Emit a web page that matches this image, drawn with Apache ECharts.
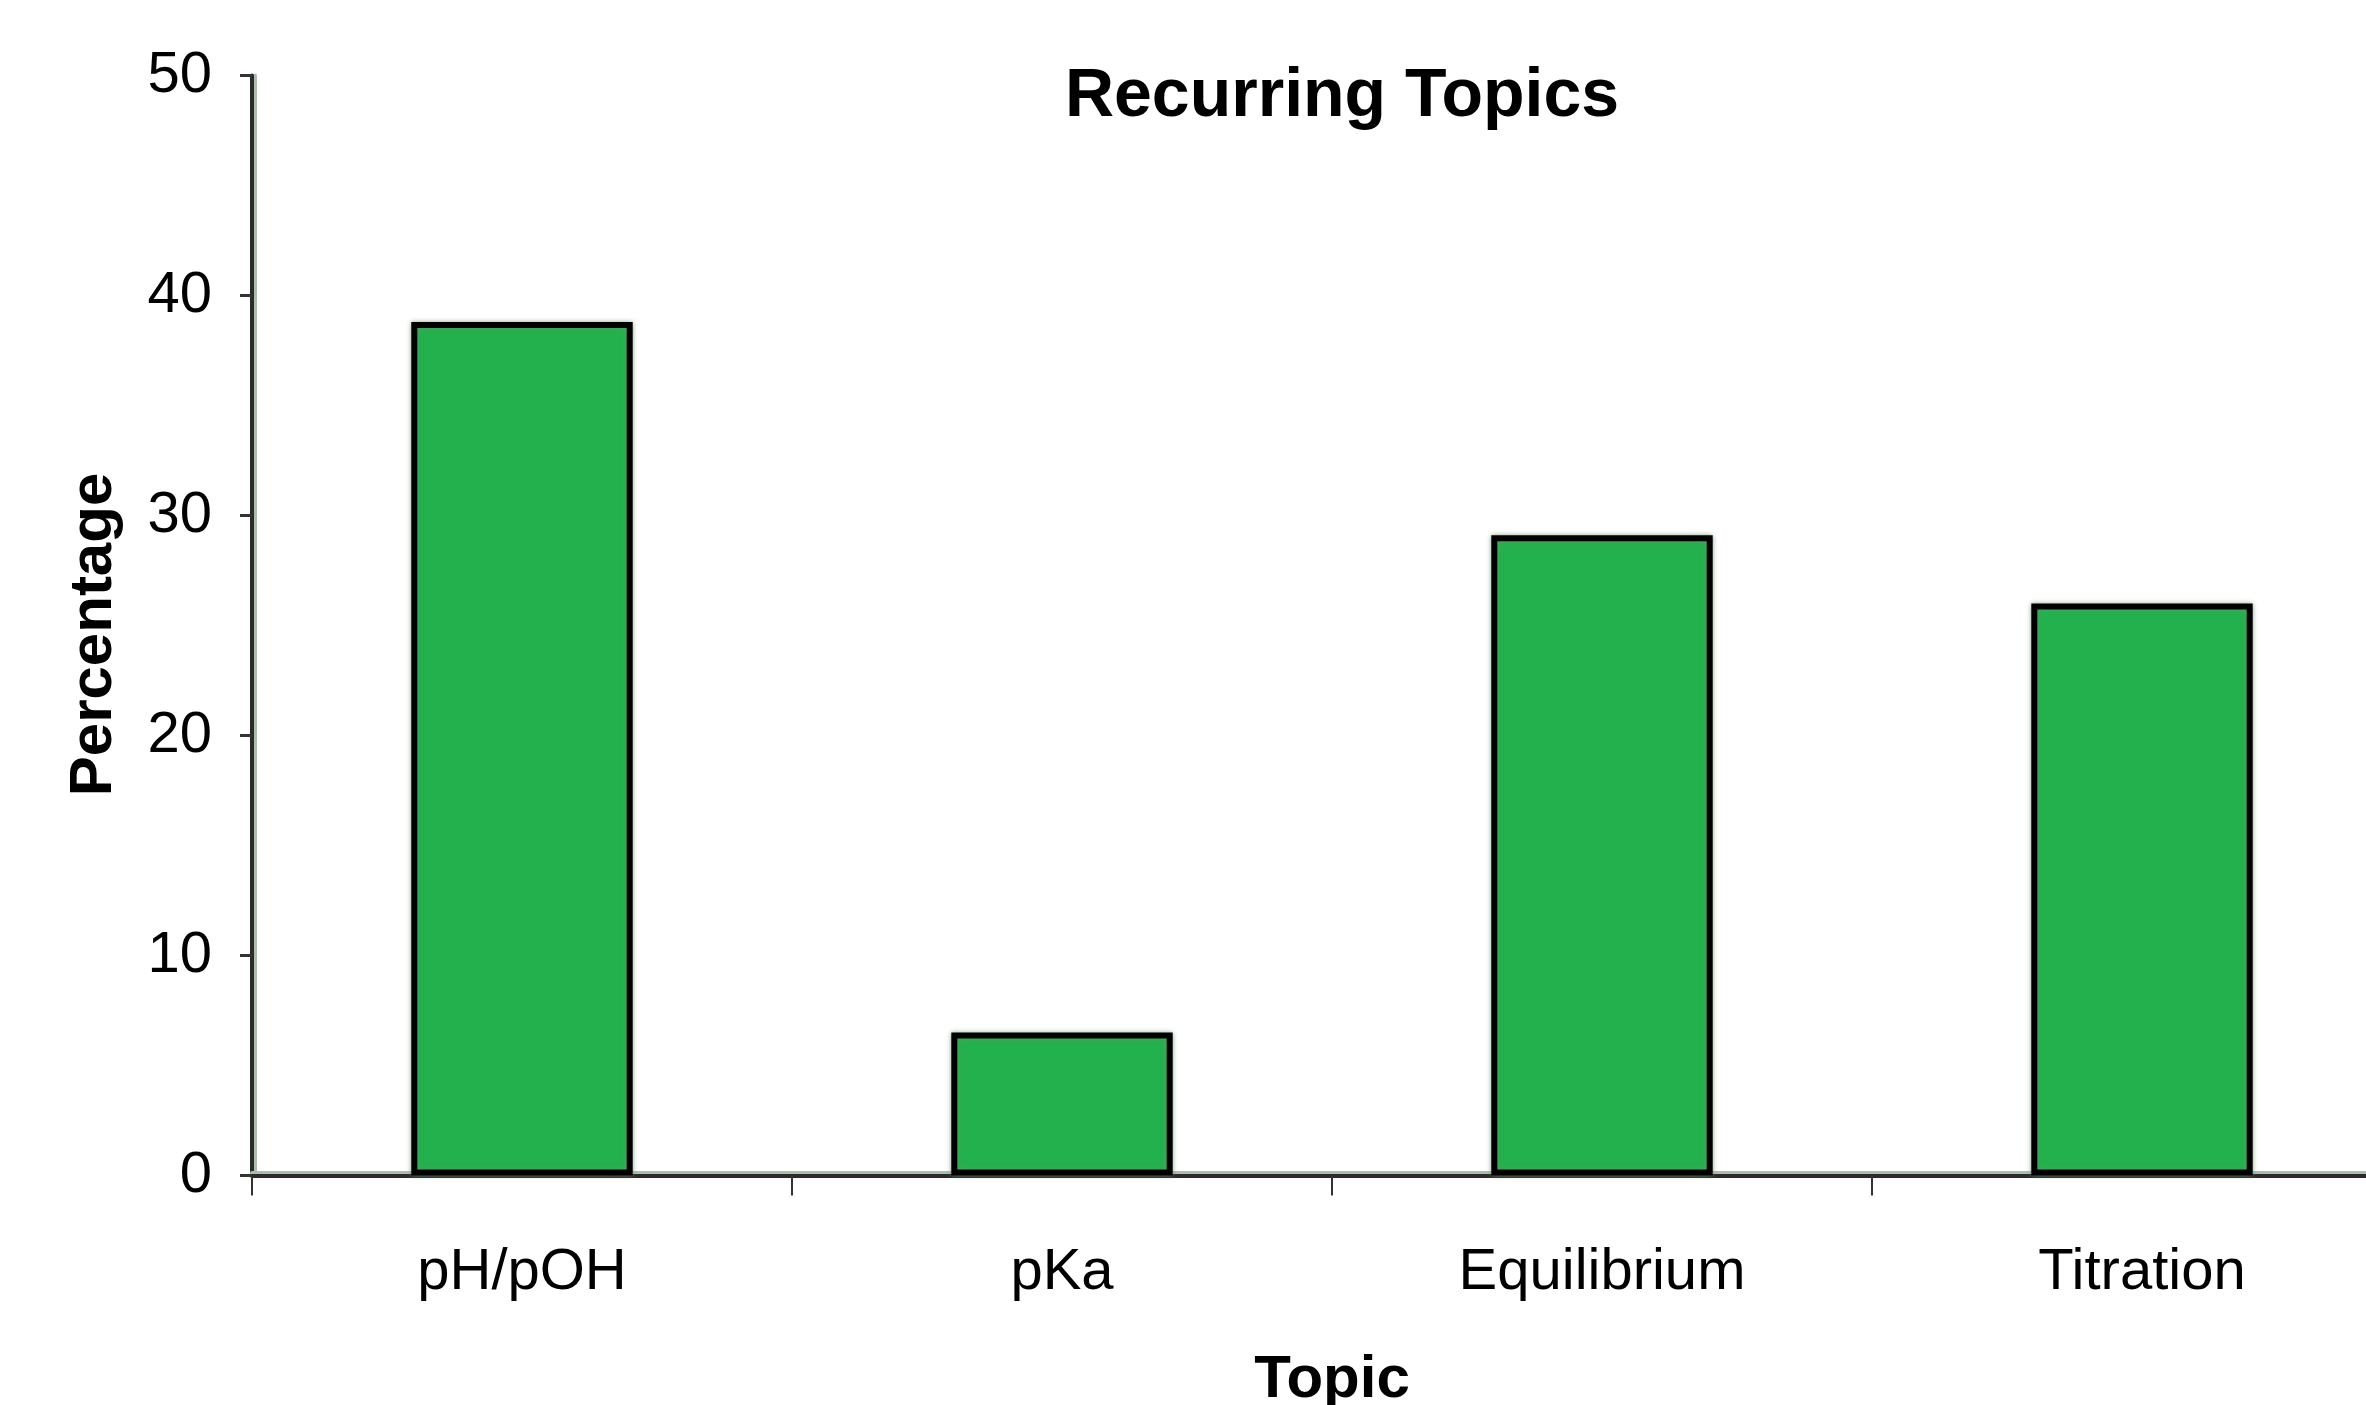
<!DOCTYPE html>
<html>
<head>
<meta charset="utf-8">
<script src="https://cdn.jsdelivr.net/npm/echarts@6/dist/echarts.min.js"></script>
<style>
html,body{margin:0;padding:0;background:#fff;}
#chart{width:2366px;height:1405px;}
</style>
</head>
<body>
<div id="chart"></div>
<script>
const categories = ['pH/pOH', 'pKa', 'Equilibrium', 'Titration'];
const percentages = [38.8, 6.5, 29.1, 26.0];
const titleText = 'Recurring Topics';
const xAxisName = 'Topic';
const yAxisName = 'Percentage';

const font = '"Liberation Sans", Arial, sans-serif';

const chart = echarts.init(document.getElementById('chart'), null, {renderer: 'canvas'});
chart.setOption({
  backgroundColor: '#ffffff',
  animation: false,
  title: {
    text: titleText,
    left: 1337,
    top: 58,
    textAlign: 'center',
    textStyle: {fontFamily: font, fontWeight: 'bold', fontSize: 68, color: '#000'}
  },
  grid: {left: 252, top: 75.5, width: 2160, height: 1100, containLabel: false, outerBoundsMode: 'none'},
  xAxis: {
    type: 'category',
    data: categories,
    boundaryGap: true,
    name: xAxisName,
    nameLocation: 'middle',
    nameGap: 175,
    nameTextStyle: {fontFamily: font, fontWeight: 'bold', fontSize: 60, color: '#000'},
    axisLine: {show: true, lineStyle: {color: '#2b2b2b', width: 4, shadowColor: '#a9bfa9', shadowOffsetY: -3}},
    axisTick: {show: true, alignWithLabel: false, length: 20, lineStyle: {color: '#333', width: 2}},
    axisLabel: {fontFamily: font, fontSize: 58, color: '#000', margin: 68, interval: 0},
    splitLine: {show: false}
  },
  yAxis: {
    type: 'value',
    min: 0,
    max: 50,
    interval: 10,
    name: yAxisName,
    nameLocation: 'middle',
    nameRotate: 90,
    nameGap: 128,
    nameTextStyle: {fontFamily: font, fontWeight: 'bold', fontSize: 60, color: '#000', padding: [0, 18, 0, 0]},
    axisLine: {show: true, lineStyle: {color: '#2b2b2b', width: 4, shadowColor: '#a9bfa9', shadowOffsetX: 3}},
    axisTick: {show: true, inside: false, length: 12, lineStyle: {color: '#333', width: 3}},
    axisLabel: {fontFamily: font, fontSize: 58, color: '#000', margin: 40},
    splitLine: {show: false}
  },
  series: [{
    type: 'bar',
    data: percentages,
    barWidth: '41%',
    itemStyle: {
      color: '#23b14d',
      borderColor: '#000',
      borderWidth: 6,
      shadowColor: 'rgba(110,150,110,0.75)',
      shadowBlur: 5
    }
  }]
});
</script>
</body>
</html>
